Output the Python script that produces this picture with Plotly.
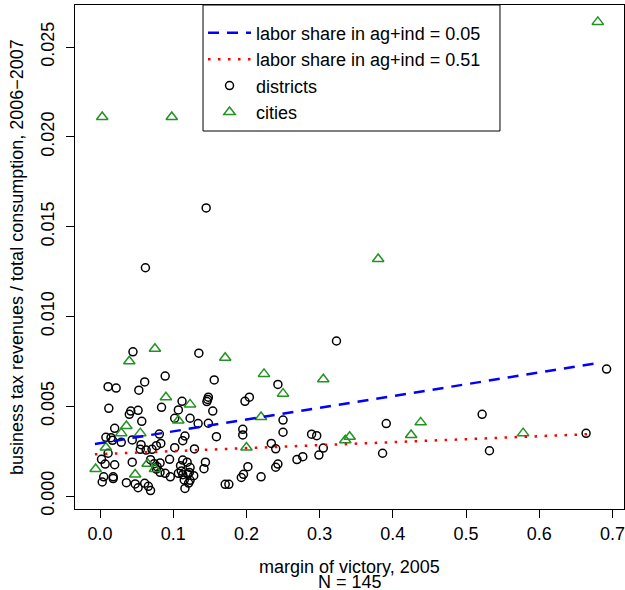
import plotly.graph_objects as go

# ---------------- data ----------------
district_x = [0.145, 0.062, 0.323,
              0.391, 0.386, 0.522, 0.532, 0.664, 0.692,
              0.243, 0.250, 0.250, 0.289, 0.296, 0.234, 0.240, 0.305, 0.269, 0.277, 0.299, 0.243, 0.240,
              0.045, 0.135, 0.089, 0.156, 0.061, 0.011, 0.022, 0.053, 0.148, 0.147, 0.146, 0.112, 0.198,
              0.204, 0.012, 0.084, 0.052, 0.042, 0.040, 0.107, 0.154, 0.102, 0.123, 0.057, 0.134, 0.148,
              0.020, 0.195, 0.195, 0.008, 0.015, 0.017, 0.044, 0.029, 0.081, 0.116, 0.113, 0.159, 0.056,
              0.055, 0.077, 0.083, 0.071, 0.129, 0.063, 0.102, 0.011, 0.002, 0.007, 0.044, 0.095, 0.113,
              0.119, 0.144, 0.020, 0.069, 0.074, 0.082, 0.078, 0.077, 0.110, 0.111, 0.123, 0.122, 0.142,
              0.202, 0.082, 0.089, 0.096, 0.107, 0.113, 0.120, 0.128, 0.005, 0.003, 0.018, 0.018, 0.036,
              0.048, 0.052, 0.061, 0.066, 0.069, 0.115, 0.123, 0.121, 0.116, 0.171, 0.176, 0.193, 0.196,
              0.220]
district_y = [0.01604, 0.01271, 0.00863,
              0.00403, 0.00238, 0.00455, 0.00252, 0.00349, 0.00707,
              0.00621, 0.00423, 0.00355, 0.00344, 0.00336, 0.00293, 0.00263, 0.00267, 0.00203, 0.00219,
              0.00228, 0.00178, 0.00160,
              0.00803, 0.00795, 0.00668, 0.00646, 0.00635, 0.00609, 0.00601, 0.00589, 0.00550, 0.00538,
              0.00526, 0.00527, 0.00527, 0.00550, 0.00488, 0.00494, 0.00477, 0.00473, 0.00455, 0.00479,
              0.00473, 0.00433, 0.00433, 0.00416, 0.00403, 0.00405, 0.00377, 0.00371, 0.00340, 0.00327,
              0.00325, 0.00310, 0.00312, 0.00299, 0.00345, 0.00334, 0.00308, 0.00330, 0.00286, 0.00260,
              0.00280, 0.00293, 0.00260, 0.00262, 0.00256, 0.00269, 0.00238, 0.00204, 0.00178, 0.00188,
              0.00204, 0.00200, 0.00188, 0.00188, 0.00174, 0.00202, 0.00180, 0.00184, 0.00163, 0.00150,
              0.00169, 0.00139, 0.00158, 0.00131, 0.00152, 0.00163, 0.00132, 0.00126, 0.00107, 0.00126,
              0.00119, 0.00122, 0.00113, 0.00107, 0.00078, 0.00107, 0.00097, 0.00074, 0.00067, 0.00046,
              0.00071, 0.00054, 0.00030, 0.00089, 0.00087, 0.00072, 0.00042, 0.00065, 0.00065, 0.00103,
              0.00121, 0.00107]

city_x = [0.680, 0.003, 0.098, 0.380, 0.075, 0.040, 0.171, 0.224, 0.305, 0.090, 0.250, 0.123,
          0.107, 0.036, 0.029, 0.055, 0.220, 0.008, 0.200, -0.006, 0.065, 0.048, 0.075, 0.335,
          0.341, 0.438, 0.425, 0.578]
city_y = [0.0264, 0.0211, 0.0211, 0.0132, 0.0082, 0.0075, 0.0077, 0.0068, 0.0065, 0.0055, 0.0057,
          0.0051, 0.0042, 0.0039, 0.0035, 0.0035, 0.0044, 0.0027, 0.0027, 0.0015, 0.0018, 0.0012,
          0.0015, 0.0031, 0.0033, 0.0041, 0.0034, 0.0035]

fit_low_x = [-0.007, 0.683]
fit_low_y = [0.00290, 0.00742]
fit_high_x = [-0.007, 0.672]
fit_high_y = [0.00232, 0.00345]

x_ticks = [0.0, 0.1, 0.2, 0.3, 0.4, 0.5, 0.6, 0.7]
y_ticks = [0.000, 0.005, 0.010, 0.015, 0.020, 0.025]

FONT = "Liberation Sans, Arial, Helvetica, sans-serif"
FS = 18

fig = go.Figure()
fig.add_trace(go.Scatter(
    x=district_x, y=district_y, mode="markers", name="districts", legendrank=3,
    marker=dict(symbol="circle-open", size=8, color="black", line=dict(width=1.5, color="black"))))
fig.add_trace(go.Scatter(
    x=city_x, y=city_y, mode="markers", name="cities", legendrank=4,
    marker=dict(symbol="triangle-up-open", size=10, color="#229322", line=dict(width=1.5, color="#229322"))))
fig.add_trace(go.Scatter(
    x=fit_low_x, y=fit_low_y, mode="lines", name="labor share in ag+ind = 0.05", legendrank=1,
    line=dict(color="blue", width=2.5, dash="11px,8px")))
fig.add_trace(go.Scatter(
    x=fit_high_x, y=fit_high_y, mode="lines", name="labor share in ag+ind = 0.51", legendrank=2,
    line=dict(color="red", width=2.5, dash="2.5px,7.5px")))

axis_common = dict(showline=True, mirror=True, linecolor="black", linewidth=1,
                   ticks="outside", ticklen=8, tickcolor="black", tickwidth=1,
                   showgrid=False, zeroline=False,
                   tickfont=dict(family=FONT, size=FS, color="black"))

fig.update_layout(
    width=625, height=590,
    margin=dict(l=75, r=1, t=5, b=81),
    paper_bgcolor="white", plot_bgcolor="white",
    font=dict(family=FONT, size=FS, color="black"),
    xaxis=dict(range=[-0.0342, 0.7158], tickvals=x_ticks,
               ticktext=[f"{v:.1f}" for v in x_ticks], **axis_common),
    yaxis=dict(range=[-0.000724, 0.02734], tickvals=y_ticks, ticklabelstandoff=5,
               ticktext=[f"{v:.3f}" for v in y_ticks], tickangle=-90, **axis_common),
    legend=dict(x=0.2332, xanchor="left", y=0.981, yanchor="top",
                bgcolor="rgba(0,0,0,0)", borderwidth=0, itemwidth=43,
                font=dict(family=FONT, size=FS, color="black"),
                tracegroupgap=0),
    showlegend=True,
    shapes=[dict(type="rect", xref="paper", yref="paper",
                 x0=0.2332, x1=0.7741, y0=0.75, y1=1.0,
                 line=dict(color="black", width=1), fillcolor="white", layer="below")],
    annotations=[
        dict(text="margin of victory, 2005", x=0.5, y=0, xref="paper", yref="paper",
             xanchor="center", yanchor="middle", yshift=-58, showarrow=False,
             font=dict(family=FONT, size=FS, color="black")),
        dict(text="N = 145", x=0.5, y=0, xref="paper", yref="paper",
             xanchor="center", yanchor="middle", yshift=-73, showarrow=False,
             font=dict(family=FONT, size=FS, color="black")),
        dict(text="business tax revenues / total consumption, 2006\u22122007", x=0, y=0.5,
             xref="paper", yref="paper", xanchor="center", yanchor="middle", xshift=-58,
             textangle=-90, showarrow=False, font=dict(family=FONT, size=FS, color="black")),
    ],
)

fig.write_html("out.html")
